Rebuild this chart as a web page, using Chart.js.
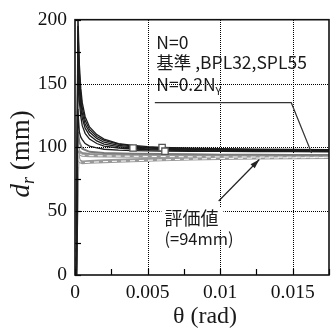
<!DOCTYPE html>
<html>
<head>
<meta charset="utf-8">
<script src="https://cdn.jsdelivr.net/npm/chart.js@4"></script>
<style>
  html, body { margin: 0; padding: 0; background: #fff; }
  #wrap { width: 335px; height: 329px; }
</style>
</head>
<body>
<div id="wrap"><canvas id="chart"></canvas></div>
<script>
// θ (rad) sample points, N=0 family (black)
const thetaBlack = [0.0001, 0.0002, 0.0003, 0.0004, 0.0005, 0.0007, 0.001, 0.0015, 0.002, 0.003, 0.004, 0.005, 0.006, 0.008, 0.01, 0.0125, 0.015, 0.0175];
const blackA = [0, 205, 165, 146, 135, 124, 116, 110, 106.5, 103, 101.5, 100.5, 100, 99.3, 98.9, 98.6, 98.4, 98.2];
const blackB = [0, 195, 158, 141, 131, 121, 114, 108.5, 105.5, 102.5, 101, 100, 99.5, 98.9, 98.5, 98.2, 98, 97.9];
const blackC = [0, 185, 151, 136, 127, 118, 112, 107, 104, 101.5, 100.3, 99.5, 99, 98.5, 98.2, 97.9, 97.7, 97.6];
const blackD = [0, 175, 145, 131, 123, 115, 109.5, 105, 102.5, 100.5, 99.5, 98.8, 98.4, 98, 97.7, 97.5, 97.3, 97.2];
const blackE = [0, 160, 136, 124, 117, 111, 106.5, 103, 101, 99.5, 98.7, 98.2, 97.8, 97.4, 97.2, 97, 96.9, 96.8];
const blackF = [0, 130, 112, 108, 106, 103, 101, 99.5, 98.5, 97.8, 97.4, 97.2, 97, 96.9, 96.8, 96.7, 96.6, 96.5];

// N=0.2Ny family (grey, solid and dashed)
const thetaGray = [0.00005, 0.0002, 0.0003, 0.0005, 0.001, 0.002, 0.004, 0.006, 0.008, 0.01, 0.0125, 0.015, 0.0175];
const grayA = [0, 112, 104, 99, 96.5, 95.5, 95, 94.7, 94.5, 94.3, 94.2, 94.1, 94];
const grayB = [0, 100, 97, 95.5, 94.8, 94.3, 94, 93.8, 93.6, 93.5, 93.4, 93.3, 93.2];
const grayC = [0, 95, 90, 89, 89.3, 89.8, 90.6, 91.3, 92, 92.6, 93.2, 93.4, 93.5];
const dashA = [0, 100, 95, 93.8, 93.5, 93.3, 93, 92.8, 92.6, 92.5, 92.4, 92.3, 92.2];
const dashB = [0, 95, 89, 88, 88.3, 88.8, 89.5, 90.2, 90.8, 91.3, 91.6, 91.8, 92];

// square markers
const markTheta = [0.004, 0.006, 0.0062];
const markDr = [99.5, 99.8, 97];

// leader line for the legend text and the arrow to 評価値
const leadTheta = [0.0055, 0.0149, 0.0163];
const leadDr = [135, 135, 95.5];
const arrowTheta = [0.0099, 0.0127];
const arrowDr = [58, 90.5];

const xTickLabels = ['0', '', '0.005', '', '0.01', '', '0.015', ''];
const yTickLabels = ['0', '', '50', '', '100', '', '150', '', '200'];
const xGrid = [0.005, 0.01, 0.015];
const yGrid = [50, 100, 150];

const pts = (xs, ys) => xs.map((x, i) => ({ x: x, y: ys[i] }));

function mkLine(data, color, width, order, dash) {
  return {
    data: data, borderColor: color, borderWidth: width, borderDash: dash || [],
    showLine: true, pointRadius: 0, fill: false, tension: 0, order: order
  };
}

const datasets = [
  mkLine(pts(thetaBlack, blackA), '#1c1c1c', 1.3, 3),
  mkLine(pts(thetaBlack, blackB), '#1c1c1c', 1.3, 3),
  mkLine(pts(thetaBlack, blackC), '#1c1c1c', 1.3, 3),
  mkLine(pts(thetaBlack, blackD), '#1c1c1c', 1.3, 3),
  mkLine(pts(thetaBlack, blackE), '#1c1c1c', 1.3, 3),
  mkLine(pts(thetaBlack, blackF), '#1c1c1c', 1.3, 3),
  mkLine(pts(thetaGray, grayA), '#7a7a7a', 2, 6),
  mkLine(pts(thetaGray, grayB), '#8a8a8a', 2, 6),
  mkLine(pts(thetaGray, grayC), '#9a9a9a', 2, 6),
  mkLine(pts(thetaGray, dashA), '#999999', 3, 5),
  mkLine(pts(thetaGray, dashA), '#ffffff', 1, 4, [5, 4]),
  mkLine(pts(thetaGray, dashB), '#999999', 3, 5),
  mkLine(pts(thetaGray, dashB), '#ffffff', 1, 4, [5, 4]),
  mkLine(pts(leadTheta, leadDr), '#333333', 1.2, 2),
  mkLine(pts(arrowTheta, arrowDr), '#222222', 1.2, 2),
  {
    data: pts(markTheta, markDr), showLine: false, pointStyle: 'rect',
    pointRadius: 4.5, pointBackgroundColor: '#ffffff', pointBorderColor: '#555555',
    pointBorderWidth: 1.3, order: 1
  }
];

const decor = {
  id: 'decor',
  beforeDatasetsDraw(chart) {
    // dotted grid at the labelled ticks
    const ctx = chart.ctx, a = chart.chartArea;
    const xs = chart.scales.x, ys = chart.scales.y;
    ctx.save();
    ctx.strokeStyle = '#000000';
    ctx.lineWidth = 1;
    ctx.setLineDash([1, 1]);
    xGrid.forEach(v => {
      const px = Math.round(xs.getPixelForValue(v)) + 0.5;
      ctx.beginPath(); ctx.moveTo(px, Math.round(a.top)); ctx.lineTo(px, Math.round(a.bottom)); ctx.stroke();
    });
    yGrid.forEach(v => {
      const py = Math.round(ys.getPixelForValue(v)) + 0.5;
      ctx.beginPath(); ctx.moveTo(Math.round(a.left), py); ctx.lineTo(Math.round(a.right), py); ctx.stroke();
    });
    ctx.restore();
  },
  afterDatasetsDraw(chart) {
    const ctx = chart.ctx, a = chart.chartArea;
    const xs = chart.scales.x, ys = chart.scales.y;
    ctx.save();
    ctx.setLineDash([]);
    // inner tick marks
    ctx.strokeStyle = '#000000';
    ctx.lineWidth = 1.2;
    xs.ticks.forEach(t => {
      const px = Math.round(xs.getPixelForValue(t.value)) + 0.5;
      ctx.beginPath(); ctx.moveTo(px, a.bottom); ctx.lineTo(px, a.bottom - 6); ctx.stroke();
    });
    ys.ticks.forEach(t => {
      const py = Math.round(ys.getPixelForValue(t.value)) + 0.5;
      ctx.beginPath(); ctx.moveTo(a.left, py); ctx.lineTo(a.left + 6, py); ctx.stroke();
    });
    // frame
    ctx.strokeStyle = '#111111';
    ctx.lineWidth = 1.6;
    ctx.strokeRect(a.left, a.top, a.right - a.left, a.bottom - a.top);

    // arrow head
    const x0 = xs.getPixelForValue(arrowTheta[0]), y0 = ys.getPixelForValue(arrowDr[0]);
    const x1 = xs.getPixelForValue(arrowTheta[1]), y1 = ys.getPixelForValue(arrowDr[1]);
    const ang = Math.atan2(y1 - y0, x1 - x0);
    ctx.fillStyle = '#222222';
    ctx.beginPath();
    ctx.moveTo(x1, y1);
    ctx.lineTo(x1 - 10 * Math.cos(ang - 0.3), y1 - 10 * Math.sin(ang - 0.3));
    ctx.lineTo(x1 - 10 * Math.cos(ang + 0.3), y1 - 10 * Math.sin(ang + 0.3));
    ctx.closePath();
    ctx.fill();

    // annotation texts
    const sans = '"Noto Sans CJK JP", "Noto Sans", sans-serif';
    ctx.fillStyle = '#1a1a1a';
    ctx.textAlign = 'left';
    ctx.textBaseline = 'alphabetic';
    ctx.font = '17.5px ' + sans;
    ctx.fillText('N=0', xs.getPixelForValue(0.0056), ys.getPixelForValue(177));
    ctx.fillText('基準 ,BPL32,SPL55', xs.getPixelForValue(0.0056), ys.getPixelForValue(161));
    const nx = xs.getPixelForValue(0.0056), ny = ys.getPixelForValue(144.5);
    ctx.fillText('N=0.2N', nx, ny);
    const w = ctx.measureText('N=0.2N').width;
    ctx.font = '11px ' + sans;
    ctx.fillText('Y', nx + w, ny + 4);
    ctx.fillStyle = '#ffffff';
    const tx = xs.getPixelForValue(0.00616);
    ctx.fillRect(tx - 3, ys.getPixelForValue(39) - 18, 62, 22);
    ctx.fillStyle = '#1a1a1a';
    ctx.font = '18px ' + sans;
    ctx.fillText('評価値', tx, ys.getPixelForValue(39));
    ctx.font = '16.5px ' + sans;
    ctx.fillText('(=94mm)', tx, ys.getPixelForValue(23.5));

    // axis titles
    const serif = '"Liberation Serif", "Times New Roman", serif';
    ctx.font = '24px ' + serif;
    ctx.textAlign = 'center';
    ctx.fillText('θ (rad)', (a.left + a.right) / 2 + 3, 323);

    ctx.translate(29, 154);
    ctx.rotate(-Math.PI / 2);
    ctx.textAlign = 'left';
    const fI = 'italic 27px ' + serif, fS = 'italic 18px ' + serif, fN = '27px ' + serif;
    ctx.font = fI; const wd = ctx.measureText('d').width;
    ctx.font = fS; const wr = ctx.measureText('r').width;
    ctx.font = fN; const wm = ctx.measureText(' (mm)').width;
    let sx = -(wd + wr + wm) / 2;
    ctx.font = fI; ctx.fillText('d', sx, 0); sx += wd;
    ctx.font = fS; ctx.fillText('r', sx, 5); sx += wr;
    ctx.font = fN; ctx.fillText(' (mm)', sx, 0);

    ctx.restore();
  }
};

new Chart(document.getElementById('chart'), {
  type: 'scatter',
  data: { datasets: datasets },
  options: {
    responsive: true,
    maintainAspectRatio: false,
    animation: false,
    layout: { padding: { left: 0, top: 19, right: 4, bottom: 0 } },
    plugins: { legend: { display: false }, tooltip: { enabled: false } },
    scales: {
      x: {
        type: 'linear', min: 0, max: 0.0175,
        afterFit: s => { s.height = 54; },
        ticks: {
          stepSize: 0.0025, autoSkip: false, maxRotation: 0, padding: 6,
          color: '#111', font: { family: '"Liberation Serif", serif', size: 19.5 },
          callback: (v, i) => xTickLabels[i]
        },
        grid: { display: false, drawTicks: false },
        border: { display: false }
      },
      y: {
        type: 'linear', min: 0, max: 200,
        afterFit: s => { s.width = 75; },
        ticks: {
          stepSize: 25, autoSkip: false, padding: 8,
          color: '#111', font: { family: '"Liberation Serif", serif', size: 19.5 },
          callback: (v, i) => yTickLabels[i]
        },
        grid: { display: false, drawTicks: false },
        border: { display: false }
      }
    }
  },
  plugins: [decor]
});
</script>
</body>
</html>
